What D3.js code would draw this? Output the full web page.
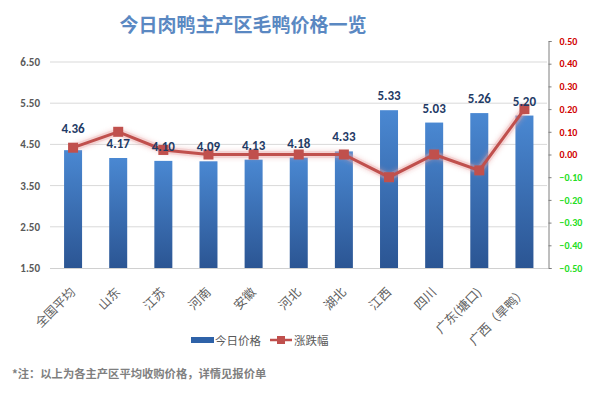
<!DOCTYPE html>
<html><head><meta charset="utf-8">
<script src="https://cdn.jsdelivr.net/npm/d3@7"></script>
<style>body{margin:0;background:#fff;}svg{display:block;font-family:"Noto Sans CJK SC","Microsoft YaHei",sans-serif;}</style>
</head><body>
<script>
const categories = ["全国平均","山东","江苏","河南","安徽","河北","湖北","江西","四川","广东(塘口)","广西（旱鸭）"];
const prices = [4.36,4.17,4.10,4.09,4.13,4.18,4.33,5.33,5.03,5.26,5.20];
const changes = [0.03,0.10,0.02,0.00,0.00,0.00,0.00,-0.10,0.00,-0.07,0.20];
const leftTicks = [1.5,2.5,3.5,4.5,5.5,6.5];
const rightTicks = [-0.5,-0.4,-0.3,-0.2,-0.1,0,0.1,0.2,0.3,0.4,0.5];
const title = "今日肉鸭主产区毛鸭价格一览";
const legendNames = ["今日价格","涨跌幅"];
const note = "*注：以上为各主产区平均收购价格，详情见报价单";

const W=591,H=394;
const svg=d3.select("body").append("svg").attr("width",W).attr("height",H);
const defs=svg.append("defs");
const g1=defs.append("linearGradient").attr("id","barg").attr("x1",0).attr("y1",0).attr("x2",0).attr("y2",1);
g1.append("stop").attr("offset","0%").attr("stop-color","#4a88d2");
g1.append("stop").attr("offset","100%").attr("stop-color","#2b5593");
const f=defs.append("filter").attr("id","glow").attr("x","-10%").attr("y","-50%").attr("width","120%").attr("height","200%");
f.append("feGaussianBlur").attr("in","SourceGraphic").attr("stdDeviation",2.5).attr("result","b");
const fm=f.append("feMerge");fm.append("feMergeNode").attr("in","b");fm.append("feMergeNode").attr("in","SourceGraphic");

const x=d3.scaleBand().domain(categories).range([50.5,547]).paddingInner(0.6).paddingOuter(0.3);
const xc=d=>x(d)+x.bandwidth()/2;
const y=d3.scaleLinear().domain([1.5,6.5]).range([268,62]);
const y2=d3.scaleLinear().domain([-0.5,0.5]).range([268,41]);

svg.append("text").attr("x",243).attr("y",32).attr("text-anchor","middle")
  .attr("font-size",19).attr("font-weight","bold").attr("fill","#5a88c2").text(title);

// gridlines
svg.append("g").selectAll("line").data(leftTicks.slice(1)).join("line")
  .attr("x1",50).attr("x2",547).attr("y1",d=>y(d)).attr("y2",d=>y(d))
  .attr("stroke","#d9d9d9").attr("stroke-width",1);
// left axis labels
const la=svg.append("g").attr("transform","translate(40,0)").call(d3.axisLeft(y).tickValues(leftTicks).tickFormat(d3.format(".2f")).tickSize(0).tickPadding(0));
la.select(".domain").remove();
la.selectAll("text").attr("font-size",11).attr("font-weight","bold").attr("fill","#595959").attr("font-family","Calibri,'Liberation Sans',sans-serif");

// bars
svg.append("g").selectAll("rect").data(prices).join("rect")
  .attr("x",(d,i)=>xc(categories[i])-9).attr("width",18)
  .attr("y",d=>y(d)).attr("height",d=>y(1.5)-y(d)).attr("fill","url(#barg)");

// bottom axis line
svg.append("line").attr("x1",50).attr("x2",548).attr("y1",268.5).attr("y2",268.5).attr("stroke","#d0d0d0");

// right axis
const ra=svg.append("g").attr("transform","translate(548.5,0)").call(d3.axisRight(y2).tickValues(rightTicks).tickFormat(d3.format(".2f")).tickSize(3).tickSizeOuter(3).tickPadding(8));
ra.select(".domain").attr("stroke","#7f7f7f");
ra.selectAll(".tick line").attr("stroke","#7f7f7f");
ra.selectAll("text").attr("font-size",10).attr("font-weight","bold").attr("font-family","Calibri,'Liberation Sans',sans-serif")
  .attr("fill",d=>d<0?"#22dd22":"#d00000");

// line
const line=d3.line().x((d,i)=>xc(categories[i])).y(d=>y2(d));
svg.append("path").datum(changes).attr("d",line).attr("fill","none").attr("stroke","#e8a0a0").attr("stroke-width",7).attr("opacity",0.45).attr("filter","url(#glow)");
svg.append("path").datum(changes).attr("d",line).attr("fill","none").attr("stroke","#c0504d").attr("stroke-width",3);
svg.append("g").selectAll("rect").data(changes).join("rect")
  .attr("x",(d,i)=>xc(categories[i])-5).attr("y",d=>y2(d)-5).attr("width",10).attr("height",10).attr("fill","#c0504d");

// value labels
svg.append("g").selectAll("text").data(prices).join("text")
  .attr("x",(d,i)=>xc(categories[i])).attr("y",(d,i)=>y(d)-(i===0?17:10))
  .attr("text-anchor","middle").attr("font-size",13).attr("font-weight","bold")
  .attr("fill","#1f3b66").attr("font-family","Calibri,'Liberation Sans',sans-serif").text(d=>d.toFixed(2));

// category labels
svg.append("g").selectAll("text").data(categories).join("text")
  .attr("transform",d=>`translate(${xc(d)+3},${293}) rotate(-45)`)
  .attr("text-anchor","end").attr("font-size",12.5).attr("fill","#606060").text(d=>d);

// legend
const lg=svg.append("g");
lg.append("rect").attr("x",191).attr("y",337).attr("width",23).attr("height",6).attr("fill","#2e62a8");
lg.append("text").attr("x",215).attr("y",344.5).attr("font-size",11.5).attr("fill","#595959").text(legendNames[0]);
lg.append("line").attr("x1",270).attr("x2",292).attr("y1",340).attr("y2",340).attr("stroke","#c0504d").attr("stroke-width",2.5);
lg.append("rect").attr("x",277).attr("y",336).attr("width",8).attr("height",8).attr("fill","#c0504d");
lg.append("text").attr("x",294).attr("y",344.5).attr("font-size",11.5).attr("fill","#595959").text(legendNames[1]);

svg.append("text").attr("x",12).attr("y",378).attr("font-size",11.3).attr("font-weight","bold").attr("fill","#7f7f7f").text(note);
</script>
</body></html>
